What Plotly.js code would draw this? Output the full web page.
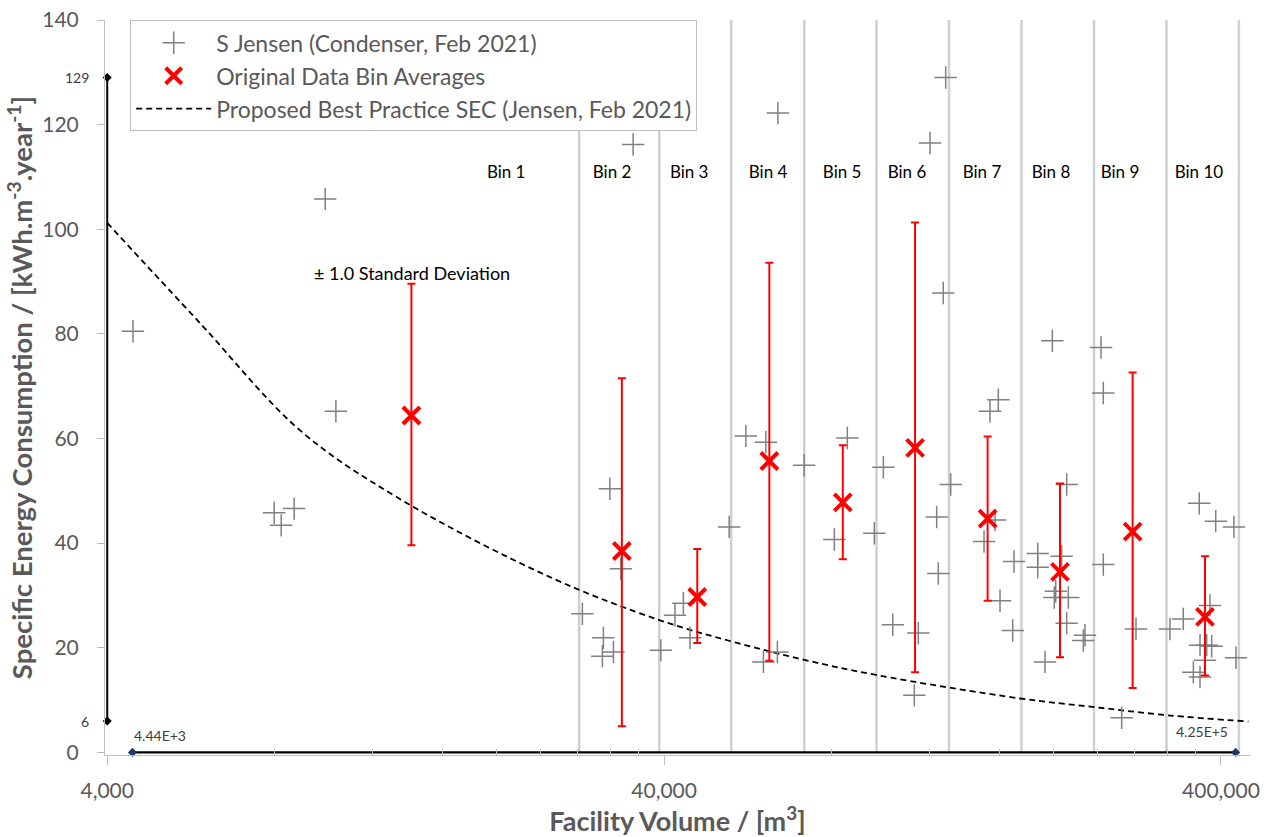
<!DOCTYPE html>
<html>
<head>
<meta charset="utf-8">
<script src="https://cdn.plot.ly/plotly-3.0.1.min.js"></script>
<style>html,body{margin:0;padding:0;background:#fff;}#chart{width:1268px;height:837px;}</style>
</head>
<body>
<div id="chart"></div>
<script>
// ---- data ----
const sjX = [4449, 7977, 8213, 8665, 9851, 10296,
  28530, 31120, 30990, 32440, 31960, 33450, 35190, 39460,
  41840, 43320, 44530, 52350,
  56090, 60920, 60320, 63890, 64030, 71370,
  80870, 85330, 95410,
  99040, 102970, 114440, 112560, 123470, 124300, 126880, 120130, 128150,
  130830, 153900, 159310, 150170, 157170, 160430, 170000, 169070,
  187500, 187500, 207000, 202000, 200800, 212800, 211350, 228000, 226400, 193240, 199170, 211350,
  243600, 245900, 245900, 265300, 281500,
  365600, 391400, 422000, 382200, 342200, 323900, 366800, 377000, 384900, 374400, 425600, 356800, 366800];
const sjY = [80.5, 45.8, 43.4, 46.6, 105.8, 65.2,
  26.5, 21.9, 18.4, 19.2, 50.4, 35.1, 116.2, 19.5,
  26.2, 28.5, 21.9, 43.1,
  60.5, 59.3, 17.3, 19.2, 122.2, 54.9,
  40.7, 60.1, 41.9,
  54.5, 24.4, 22.8, 10.9, 45.0, 34.2, 87.8, 116.5, 129.0,
  51.2, 65.2, 67.4, 40.3, 44.4, 29.0, 36.5, 23.3,
  38.0, 35.4, 37.5, 30.8, 29.6, 29.6, 24.7, 22.4, 21.4, 17.3, 78.7, 51.2,
  77.4, 68.7, 35.9, 6.6, 23.6,
  47.6, 44.2, 43.1, 28.1, 25.5, 23.6, 20.5, 20.5, 20.3, 17.6, 18.1, 15.3, 14.4];

const binNames = ["Bin 1", "Bin 2", "Bin 3", "Bin 4", "Bin 5", "Bin 6", "Bin 7", "Bin 8", "Bin 9", "Bin 10"];
const binLabelX = [20820, 32260, 44370, 61480, 83520, 109200, 148900, 198100, 263500, 365200];
const binEdges = [28150, 39200, 52780, 71400, 96270, 129900, 175300, 236600, 319300, 430800];

const avgX = [14070, 33590, 45880, 61810, 83740, 112900, 152400, 205600, 277600, 374400];
const avgY = [64.4, 38.5, 29.7, 55.7, 47.8, 58.2, 44.7, 34.5, 42.2, 25.9];
const sdTop = [89.6, 71.5, 38.9, 93.6, 58.7, 101.3, 60.4, 51.4, 72.6, 37.5];
const sdBottom = [39.6, 5.0, 20.9, 17.5, 36.9, 15.3, 29.0, 18.2, 12.3, 14.7];

const curveX = [4000, 5877, 8890, 13440, 24960, 39200, 52900, 71400, 96100, 174500, 235000, 320800, 448000];
const curveY = [101.2, 82.0, 61.5, 48.4, 33.5, 25.3, 21.2, 17.7, 14.8, 10.3, 8.7, 7.1, 5.9];

const rangeYVals = [6, 129];          // min / max SEC
const rangeYLabels = ["6", "129"];
const rangeXVals = [4440, 425000];    // min / max volume
const rangeXLabels = ["4.44E+3", "4.25E+5"];

const xTickVals = [4000, 40000, 400000];
const xTickText = ["4,000", "40,000", "400,000"];
const minorMult = [2, 3, 4, 5, 6, 7, 8, 9];
const yTickVals = [0, 20, 40, 60, 80, 100, 120, 140];

// ---- build traces ----
const FONT = "Lato, Carlito, Calibri, 'Open Sans', sans-serif";
const GREY_TXT = "#595959";

const edgeX = [], edgeY = [];
binEdges.forEach(e => { edgeX.push(e, e, null); edgeY.push(0, 140, null); });

const minorVals = [];
[xTickVals[0], xTickVals[1]].forEach(b => minorMult.forEach(m => minorVals.push(b * m)));

const traces = [
  { x: edgeX, y: edgeY, mode: "lines", line: { color: "#d0d0d0", width: 2.5 },
    hoverinfo: "skip", showlegend: false },
  { x: curveX, y: curveY, mode: "lines", name: "Proposed Best Practice SEC (Jensen, Feb 2021)",
    line: { color: "#000000", width: 1.8, dash: "6px,4px", shape: "spline" },
    legendgroup: "c", legendrank: 3 },
  { x: [xTickVals[0], xTickVals[0]], y: rangeYVals, mode: "lines+markers",
    line: { color: "#000000", width: 2 },
    marker: { symbol: "diamond", size: 7, color: "#000000" },
    cliponaxis: false, showlegend: false, hoverinfo: "skip" },
  { x: rangeXVals, y: [0, 0], mode: "lines+markers",
    line: { color: "#000000", width: 2.2 },
    marker: { symbol: "diamond", size: 7, color: "#203864" },
    cliponaxis: false, showlegend: false, hoverinfo: "skip" },
  { x: sjX, y: sjY, mode: "markers", name: "S Jensen (Condenser, Feb 2021)",
    marker: { symbol: "cross-thin-open", size: 16, color: "#808080", line: { color: "#808080", width: 1.5 } },
    legendgroup: "a", legendrank: 1 },
  { x: avgX, y: avgY, mode: "markers", name: "Original Data Bin Averages",
    marker: { symbol: "x-thin-open", size: 17, color: "#ff0000", line: { color: "#ff0000", width: 4 } },
    error_y: { type: "data", symmetric: false,
      array: sdTop.map((t, i) => t - avgY[i]),
      arrayminus: sdBottom.map((b, i) => avgY[i] - b),
      color: "#ff0000", thickness: 2, width: 4 },
    legendgroup: "b", legendrank: 2 },
  { x: binLabelX, y: binLabelX.map(() => 110.7), mode: "text", text: binNames,
    textfont: { family: FONT, size: 17, color: "#000000" },
    showlegend: false, hoverinfo: "skip" }
];

const annotations = [
  { x: Math.log10(xTickVals[0]), y: rangeYVals[1], xref: "x", yref: "y", text: rangeYLabels[1],
    showarrow: false, xanchor: "right", yanchor: "middle", xshift: -16,
    font: { family: FONT, size: 14, color: "#404040" } },
  { x: Math.log10(xTickVals[0]), y: rangeYVals[0], xref: "x", yref: "y", text: rangeYLabels[0],
    showarrow: false, xanchor: "right", yanchor: "middle", xshift: -16,
    font: { family: FONT, size: 14, color: "#404040" } },
  { x: Math.log10(rangeXVals[0]), y: 0, xref: "x", yref: "y", text: rangeXLabels[0],
    showarrow: false, xanchor: "left", yanchor: "middle", yshift: 17,
    font: { family: FONT, size: 14, color: "#404040" } },
  { x: Math.log10(rangeXVals[1]), y: 0, xref: "x", yref: "y", text: rangeXLabels[1],
    showarrow: false, xanchor: "right", yanchor: "middle", yshift: 21, xshift: -6,
    font: { family: FONT, size: 14, color: "#404040" } },
  { x: Math.log10(avgX[0]), y: sdTop[0], xref: "x", yref: "y", text: "± 1.0 Standard Deviation",
    showarrow: false, xanchor: "left", yanchor: "middle", xshift: -99, yshift: 11,
    font: { family: FONT, size: 18, color: "#000000" } }
];

const layout = {
  width: 1268, height: 837,
  margin: { l: 104.8, r: 18, t: 19.6, b: 82.3, pad: 0 },
  paper_bgcolor: "#ffffff", plot_bgcolor: "#ffffff",
  font: { family: FONT, color: GREY_TXT },
  showlegend: true,
  legend: {
    x: 0.022, y: 0.9995, xanchor: "left", yanchor: "top",
    bgcolor: "#ffffff", bordercolor: "#bfbfbf", borderwidth: 1,
    font: { family: FONT, size: 23, color: GREY_TXT },
    traceorder: "grouped", tracegroupgap: 0, itemwidth: 75
  },
  xaxis: {
    type: "log", range: [Math.log10(4000) - 0.004, Math.log10(451000)],
    tickmode: "array", tickvals: xTickVals, ticktext: xTickText,
    ticks: "outside", ticklen: 9, tickcolor: "#bfbfbf", tickwidth: 1,
    showline: true, linecolor: "#bfbfbf", linewidth: 1,
    showgrid: false, zeroline: false,
    tickfont: { family: FONT, size: 21, color: GREY_TXT },
    ticklabelstandoff: 8,
    minor: { tickmode: "array", tickvals: minorVals, ticks: "inside", ticklen: 6,
      tickcolor: "#bfbfbf", tickwidth: 1, showgrid: false },
    title: { text: "Facility Volume / [m<sup>3</sup>]", standoff: 8,
      font: { family: FONT, size: 27, color: GREY_TXT, weight: "bold" } }
  },
  yaxis: {
    range: [-0.5, 140], tickmode: "array", tickvals: yTickVals,
    ticks: "outside", ticklen: 7, tickcolor: "#bfbfbf", tickwidth: 1,
    showline: true, linecolor: "#bfbfbf", linewidth: 1,
    showgrid: false, zeroline: false,
    tickfont: { family: FONT, size: 21, color: GREY_TXT },
    ticklabelstandoff: 14,
    title: { text: "Specific Energy Consumption / [kWh.m<sup>-3</sup>.year<sup>-1</sup>]", standoff: 1,
      font: { family: FONT, size: 27.5, color: GREY_TXT, weight: "bold" } }
  },
  annotations: annotations
};

Plotly.newPlot("chart", traces, layout, { displayModeBar: false, staticPlot: true });
</script>
</body>
</html>
